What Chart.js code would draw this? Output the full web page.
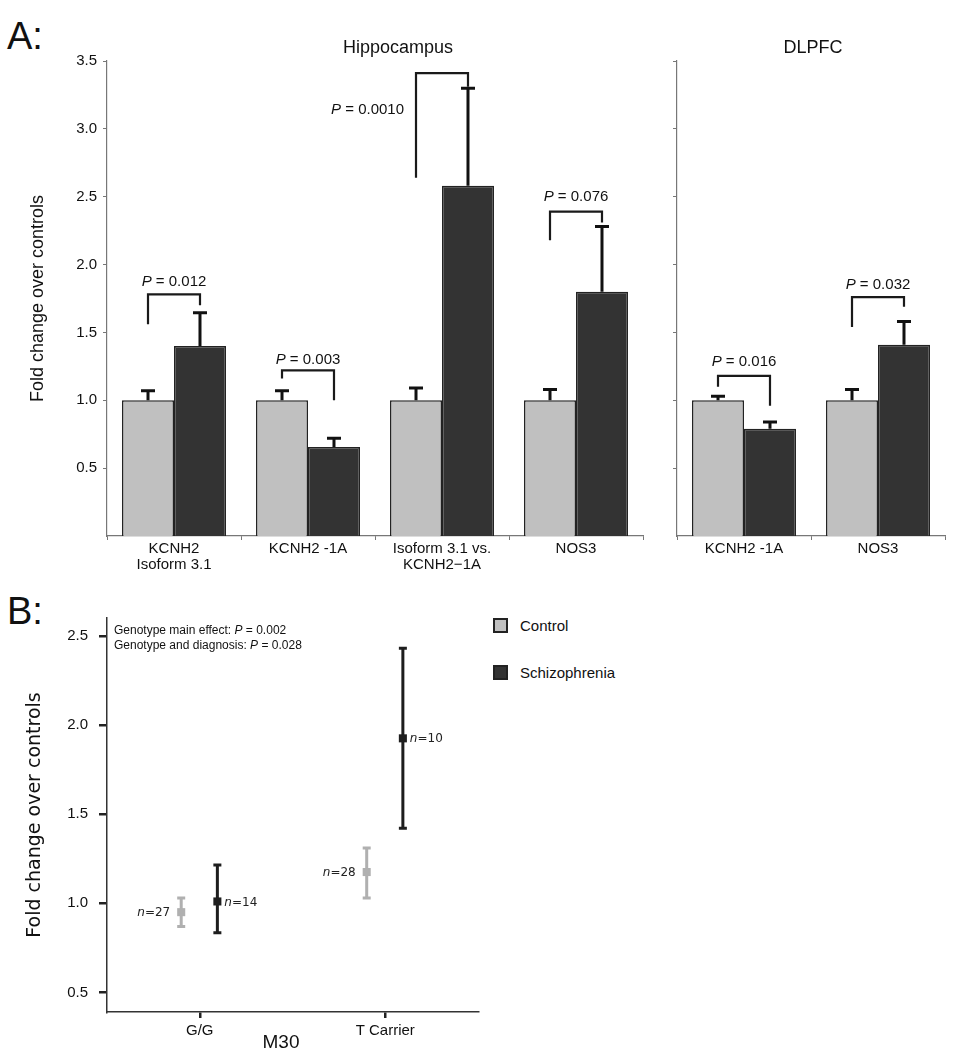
<!DOCTYPE html>
<html>
<head>
<meta charset="utf-8">
<script src="https://cdn.jsdelivr.net/npm/chart.js@4.4.1/dist/chart.umd.min.js"></script>
<style>
  body { margin: 0; background: #fff; width: 969px; height: 1050px; position: relative; overflow: hidden;
         font-family: "Liberation Sans", Arial, sans-serif; color: #111; }
  canvas { position: absolute; }
  .letter { position: absolute; font-size: 38px; line-height: 1; }
  .legend { position: absolute; left: 493px; top: 617px; font-size: 15px; }
  .legend div { height: 47px; display: flex; align-items: flex-start; }
  .legend span.box { width: 11px; height: 11px; border: 2px solid #222; margin-right: 12px; margin-top: 1px; }
</style>
</head>
<body>
<div class="letter" style="left:7px;top:17px">A:</div>
<div class="letter" style="left:7px;top:592px">B:</div>
<canvas id="hippo" width="655" height="580" style="left:0;top:0"></canvas>
<canvas id="dlpfc" width="300" height="580" style="left:660px;top:0"></canvas>
<canvas id="geno" width="490" height="460" style="left:0;top:590px"></canvas>
<div class="legend" id="legend"></div>

<script>
var seriesNames = ['Control', 'Schizophrenia'];
var seriesColors = ['#c0c0c0', '#333333'];

// Panel A, hippocampus
var hippoGenes = [['KCNH2', 'Isoform 3.1'], 'KCNH2 -1A', ['Isoform 3.1 vs.', 'KCNH2\u22121A'], 'NOS3'];
var hippoControl = [1.0, 1.0, 1.0, 1.0];
var hippoControlSE = [0.07, 0.07, 0.09, 0.08];
var hippoSchiz = [1.40, 0.655, 2.58, 1.80];
var hippoSchizSE = [0.245, 0.065, 0.72, 0.48];
var hippoP = ['0.012', '0.003', '0.0010', '0.076'];
var hippoBracketTop = [1.78, 1.22, 3.41, 2.39];
var hippoBracketLeft = [1.56, 1.16, 2.64, 2.18];
var hippoBracketRight = [1.70, 1.00, 3.31, 2.31];
var hippoPLabelAt = [1.87, 1.30, 3.14, 2.50];

// Panel A, DLPFC
var dlpfcGenes = ['KCNH2 -1A', 'NOS3'];
var dlpfcControl = [1.0, 1.0];
var dlpfcControlSE = [0.03, 0.08];
var dlpfcSchiz = [0.79, 1.41];
var dlpfcSchizSE = [0.05, 0.17];
var dlpfcP = ['0.016', '0.032'];
var dlpfcBracketTop = [1.18, 1.76];
var dlpfcBracketLeft = [1.10, 1.54];
var dlpfcBracketRight = [0.96, 1.69];
var dlpfcPLabelAt = [1.28, 1.85];

var yTicksA = [0.5, 1.0, 1.5, 2.0, 2.5, 3.0, 3.5];

// Panel B, M30 genotype
var genotypes = ['G/G', 'T Carrier'];
var controlMeanB = [0.95, 1.175];
var controlLowB = [0.87, 1.03];
var controlHighB = [1.03, 1.31];
var nControlB = [27, 28];
var schizMeanB = [1.01, 1.925];
var schizLowB = [0.835, 1.42];
var schizHighB = [1.215, 2.43];
var nSchizB = [14, 10];
var yTicksB = [0.5, 1.0, 1.5, 2.0, 2.5];
var statsB = [['Genotype main effect: ', '0.002'], ['Genotype and diagnosis: ', '0.028']];

var FONT = '"Liberation Sans", Arial, sans-serif';

// up-only error bars for the bar charts
var barErrors = {
	id: 'barErrors',
	afterDatasetsDraw: function(chart) {
		var ctx = chart.ctx, y = chart.scales.y;
		chart.data.datasets.forEach(function(ds, di) {
			chart.getDatasetMeta(di).data.forEach(function(bar, i) {
				var top = y.getPixelForValue(ds.data[i] + ds.errors[i]);
				ctx.save();
				ctx.strokeStyle = '#111';
				ctx.lineWidth = 3;
				ctx.beginPath();
				ctx.moveTo(bar.x, bar.y);
				ctx.lineTo(bar.x, top);
				ctx.moveTo(bar.x - 7, top);
				ctx.lineTo(bar.x + 7, top);
				ctx.stroke();
				ctx.restore();
			});
		});
	}
};

function drawP(ctx, value, x, y, align, size) {
	ctx.font = 'italic ' + size + 'px ' + FONT;
	var wP = ctx.measureText('P').width;
	ctx.font = size + 'px ' + FONT;
	var rest = ' = ' + value;
	var w = wP + ctx.measureText(rest).width;
	var x0 = align === 'center' ? x - w / 2 : (align === 'right' ? x - w : x);
	ctx.textBaseline = 'middle';
	ctx.textAlign = 'left';
	ctx.fillStyle = '#111';
	ctx.font = 'italic ' + size + 'px ' + FONT;
	ctx.fillText('P', x0, y);
	ctx.font = size + 'px ' + FONT;
	ctx.fillText(rest, x0 + wP, y);
}

var brackets = {
	id: 'brackets',
	afterDatasetsDraw: function(chart, args, o) {
		var ctx = chart.ctx, y = chart.scales.y;
		var m0 = chart.getDatasetMeta(0), m1 = chart.getDatasetMeta(1);
		o.labels.forEach(function(lab, i) {
			var xl = m0.data[i].x, xr = m1.data[i].x;
			var yt = y.getPixelForValue(o.top[i]);
			ctx.save();
			ctx.strokeStyle = '#1a1a1a';
			ctx.lineWidth = 2.2;
			ctx.beginPath();
			ctx.moveTo(xl, y.getPixelForValue(o.left[i]));
			ctx.lineTo(xl, yt);
			ctx.lineTo(xr, yt);
			ctx.lineTo(xr, y.getPixelForValue(o.right[i]));
			ctx.stroke();
			var ly = y.getPixelForValue(o.labelAt[i]);
			if (o.labelAt[i] > o.top[i]) drawP(ctx, lab, (xl + xr) / 2, ly, 'center', 15);
			else drawP(ctx, lab, xl - 12, ly, 'right', 15);
			ctx.restore();
		});
	}
};

var panelTitle = {
	id: 'panelTitle',
	afterDraw: function(chart, args, o) {
		var ctx = chart.ctx;
		ctx.save();
		ctx.font = '18px ' + FONT;
		ctx.fillStyle = '#111';
		ctx.textAlign = 'center';
		ctx.textBaseline = 'middle';
		ctx.fillText(o.text, o.x, o.y);
		ctx.restore();
	}
};

function barChart(id, genes, ctrl, ctrlSE, schiz, schizSE, bk, title, showY) {
	return new Chart(document.getElementById(id), {
		type: 'bar',
		data: {
			labels: genes,
			datasets: [
				{ label: seriesNames[0], data: ctrl, errors: ctrlSE, backgroundColor: seriesColors[0],
				  borderColor: '#222', borderWidth: 1.5 },
				{ label: seriesNames[1], data: schiz, errors: schizSE, backgroundColor: seriesColors[1],
				  borderColor: '#222', borderWidth: 1.5 }
			]
		},
		options: {
			responsive: false,
			animation: false,
			categoryPercentage: 0.776,
			barPercentage: 1.0,
			layout: { padding: { top: 61, right: showY ? 12 : 15, left: 0, bottom: 0 } },
			plugins: {
				legend: { display: false },
				tooltip: { enabled: false },
				brackets: bk,
				panelTitle: title
			},
			scales: {
				x: {
					grid: { drawOnChartArea: false, tickLength: 4, color: '#777' },
					border: { color: '#777', width: 1.2 },
					ticks: { color: '#111', font: { family: FONT, size: 15, lineHeight: 1.05 }, padding: 1,
					         maxRotation: 0, autoSkip: false },
					afterFit: function(s) { s.height = 44; }
				},
				y: {
					min: 0, max: 3.5,
					afterBuildTicks: function(s) { s.ticks = yTicksA.map(function(v) { return { value: v }; }); },
					grid: { drawOnChartArea: false, tickLength: 4, color: '#777' },
					border: { color: '#777', width: 1.2 },
					ticks: { display: showY, color: '#111', font: { family: FONT, size: 15 }, padding: 6,
					         callback: function(v) { return v.toFixed(1); } },
					title: { display: showY, text: 'Fold change over controls', color: '#111',
					         font: { family: FONT, size: 18 }, padding: { top: 27, bottom: 0 } },
					afterFit: function(s) { s.width = showY ? 107 : 17; }
				}
			}
		},
		plugins: [barErrors, brackets, panelTitle]
	});
}

barChart('hippo', hippoGenes, hippoControl, hippoControlSE, hippoSchiz, hippoSchizSE,
	{ labels: hippoP, top: hippoBracketTop, left: hippoBracketLeft, right: hippoBracketRight, labelAt: hippoPLabelAt },
	{ text: 'Hippocampus', x: 398, y: 48 }, true);

barChart('dlpfc', dlpfcGenes, dlpfcControl, dlpfcControlSE, dlpfcSchiz, dlpfcSchizSE,
	{ labels: dlpfcP, top: dlpfcBracketTop, left: dlpfcBracketLeft, right: dlpfcBracketRight, labelAt: dlpfcPLabelAt },
	{ text: 'DLPFC', x: 153, y: 48 }, false);

// Panel B: error bars (both sides) drawn under the points, plus n labels
var rangeBars = {
	id: 'rangeBars',
	beforeDatasetsDraw: function(chart) {
		var ctx = chart.ctx, y = chart.scales.y;
		chart.data.datasets.forEach(function(ds, di) {
			chart.getDatasetMeta(di).data.forEach(function(pt, i) {
				var hi = y.getPixelForValue(ds.hi[i]), lo = y.getPixelForValue(ds.lo[i]);
				ctx.save();
				ctx.strokeStyle = ds.borderColor;
				ctx.lineWidth = 3;
				ctx.beginPath();
				ctx.moveTo(pt.x, hi); ctx.lineTo(pt.x, lo);
				ctx.moveTo(pt.x - 4, hi); ctx.lineTo(pt.x + 4, hi);
				ctx.moveTo(pt.x - 4, lo); ctx.lineTo(pt.x + 4, lo);
				ctx.stroke();
				ctx.restore();
			});
		});
	},
	afterDatasetsDraw: function(chart) {
		var ctx = chart.ctx;
		chart.data.datasets.forEach(function(ds, di) {
			chart.getDatasetMeta(di).data.forEach(function(pt, i) {
				ctx.save();
				ctx.fillStyle = '#222';
				ctx.textBaseline = 'middle';
				ctx.textAlign = 'left';
				ctx.font = 'italic 12px "DejaVu Sans"';
				var wn = ctx.measureText('n').width;
				ctx.font = '12px "DejaVu Sans"';
				var rest = '=' + ds.n[i];
				var w = wn + ctx.measureText(rest).width;
				var x0 = ds.nSide === 'left' ? pt.x - 11 - w : pt.x + 7;
				ctx.font = 'italic 12px "DejaVu Sans"';
				ctx.fillText('n', x0, pt.y + 1);
				ctx.font = '12px "DejaVu Sans"';
				ctx.fillText(rest, x0 + wn, pt.y + 1);
				ctx.restore();
			});
		});
	},
	afterDraw: function(chart) {
		var ctx = chart.ctx, a = chart.chartArea;
		statsB.forEach(function(s, i) {
			ctx.save();
			ctx.font = '12px ' + FONT;
			ctx.fillStyle = '#111';
			ctx.textBaseline = 'middle';
			ctx.fillText(s[0], a.left + 7, a.top + 13 + i * 15);
			var w = ctx.measureText(s[0]).width;
			drawP(ctx, s[1], a.left + 7 + w, a.top + 13 + i * 15, 'left', 12);
			ctx.restore();
		});
		ctx.save();
		ctx.font = '19px ' + FONT;
		ctx.fillStyle = '#111';
		ctx.textAlign = 'center';
		ctx.textBaseline = 'middle';
		ctx.fillText('M30', 281, 453);
		ctx.restore();
	}
};

new Chart(document.getElementById('geno'), {
	type: 'scatter',
	data: {
		datasets: [
			{ label: seriesNames[0], nSide: 'left',
			  data: genotypes.map(function(g, i) { return { x: i - 0.1, y: controlMeanB[i] }; }),
			  lo: controlLowB, hi: controlHighB, n: nControlB,
			  backgroundColor: '#b0b0b0', borderColor: '#b0b0b0', pointStyle: 'rect', pointRadius: 5.7, borderWidth: 0 },
			{ label: seriesNames[1], nSide: 'right',
			  data: genotypes.map(function(g, i) { return { x: i + 0.095, y: schizMeanB[i] }; }),
			  lo: schizLowB, hi: schizHighB, n: nSchizB,
			  backgroundColor: '#1e1e1e', borderColor: '#1e1e1e', pointStyle: 'rect', pointRadius: 5.7, borderWidth: 0 }
		]
	},
	options: {
		responsive: false,
		animation: false,
		layout: { padding: { top: 28, right: 12, left: 0, bottom: 0 } },
		plugins: { legend: { display: false }, tooltip: { enabled: false } },
		scales: {
			x: {
				type: 'linear', min: -0.5, max: 1.5,
				afterBuildTicks: function(s) { s.ticks = genotypes.map(function(g, i) { return { value: i }; }); },
				grid: { drawOnChartArea: false, tickLength: 6, color: '#222', lineWidth: 2.5 },
				border: { color: '#333', width: 1.5 },
				ticks: { color: '#111', font: { family: FONT, size: 15 }, padding: 4,
				         callback: function(v) { return genotypes[v]; } },
				afterFit: function(s) { s.height = 38; }
			},
			y: {
				min: 0.39, max: 2.6,
				afterBuildTicks: function(s) { s.ticks = yTicksB.map(function(v) { return { value: v }; }); },
				grid: { drawOnChartArea: false, tickLength: 8, color: '#222', lineWidth: 2.5 },
				border: { color: '#333', width: 1.5 },
				ticks: { color: '#111', font: { family: FONT, size: 15 }, padding: 11,
				         callback: function(v) { return v.toFixed(1); } },
				title: { display: true, text: 'Fold change over controls', color: '#111',
				         font: { family: '"DejaVu Sans"', size: 19 }, padding: { top: 24, bottom: 0 } },
				afterFit: function(s) { s.width = 107; }
			}
		}
	},
	plugins: [rangeBars]
});

// legend for panel B
var legend = document.getElementById('legend');
seriesNames.forEach(function(name, i) {
	var row = document.createElement('div');
	var box = document.createElement('span');
	box.className = 'box';
	box.style.background = seriesColors[i];
	row.appendChild(box);
	row.appendChild(document.createTextNode(name));
	legend.appendChild(row);
});
</script>
</body>
</html>
